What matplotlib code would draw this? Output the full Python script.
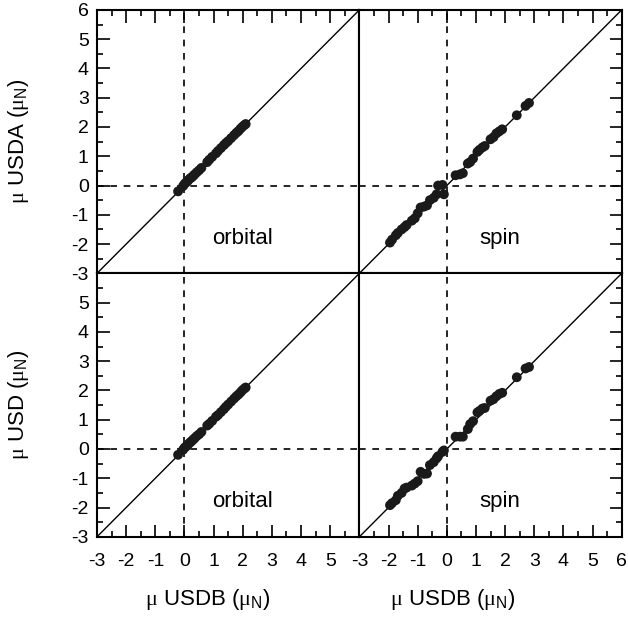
import matplotlib
matplotlib.use('Agg')
import matplotlib.pyplot as plt
from matplotlib.ticker import MultipleLocator, FixedLocator

plt.rcParams['font.family'] = ['Liberation Sans', 'DejaVu Sans']
plt.rcParams['mathtext.fontset'] = 'custom'
plt.rcParams['mathtext.rm'] = 'Liberation Sans'
plt.rcParams['mathtext.it'] = 'Liberation Serif'
plt.rcParams['axes.unicode_minus'] = False

# orbital parts of the magnetic moments (mu_N)
orb_usdb = [-0.22, -0.05, 0.0, 0.05, 0.1, 0.15, 0.2, 0.25, 0.3, 0.35, 0.42, 0.5, 0.58,
            0.78, 0.85, 0.95, 1.08, 1.15, 1.25, 1.35, 1.42, 1.5, 1.6, 1.7, 1.78, 1.85,
            1.92, 1.98, 2.05, 2.1]
orb_usda = [-0.2, -0.02, 0.05, 0.1, 0.14, 0.2, 0.25, 0.28, 0.33, 0.38, 0.45, 0.52, 0.6,
            0.8, 0.88, 0.98, 1.1, 1.18, 1.28, 1.38, 1.45, 1.52, 1.62, 1.72, 1.8, 1.86,
            1.94, 2.0, 2.06, 2.1]
orb_usd = [-0.2, -0.03, 0.04, 0.08, 0.13, 0.18, 0.23, 0.27, 0.32, 0.37, 0.44, 0.5, 0.58,
           0.8, 0.86, 0.96, 1.1, 1.16, 1.26, 1.36, 1.44, 1.52, 1.62, 1.72, 1.8, 1.86,
           1.93, 2.0, 2.06, 2.1]

# spin parts
spin_usdb = [-1.95, -1.88, -1.75, -1.68, -1.55, -1.45, -1.38, -1.2, -1.1, -1.0, -0.9,
             -0.78, -0.68, -0.58, -0.45, -0.35, -0.3, -0.15, -0.1, 0.3, 0.45, 0.55,
             0.72, 0.8, 0.9, 1.05, 1.12, 1.22, 1.3, 1.5, 1.6, 1.7, 1.8, 1.9, 2.4, 2.7, 2.82]
spin_usda = [-1.95, -1.85, -1.7, -1.62, -1.5, -1.42, -1.35, -1.2, -1.12, -0.95, -0.75,
             -0.72, -0.68, -0.5, -0.42, -0.3, 0.0, 0.02, -0.3, 0.35, 0.38, 0.42,
             0.75, 0.8, 0.92, 1.15, 1.22, 1.3, 1.35, 1.58, 1.65, 1.78, 1.85, 1.92, 2.4, 2.72, 2.82]
spin_usd = [-1.92, -1.85, -1.75, -1.6, -1.5, -1.35, -1.32, -1.25, -1.18, -1.1, -0.78,
            -0.85, -0.84, -0.55, -0.45, -0.32, -0.25, -0.1, -0.05, 0.42, 0.42, 0.42,
            0.68, 0.85, 0.95, 1.25, 1.3, 1.38, 1.4, 1.65, 1.7, 1.8, 1.88, 1.92, 2.45, 2.75, 2.8]

panel_text = ['orbital', 'spin']
ylabels = [r'$\mu$ USDA ($\mu_\mathrm{N}$)', r'$\mu$ USD ($\mu_\mathrm{N}$)']
xlabel = r'$\mu$ USDB ($\mu_\mathrm{N}$)'

fig = plt.figure(figsize=(6.28, 6.17), dpi=100)
gs = fig.add_gridspec(2, 2, left=0.1545, right=0.99, top=0.984, bottom=0.13,
                      hspace=0, wspace=0)

data = [[(orb_usdb, orb_usda), (spin_usdb, spin_usda)],
        [(orb_usdb, orb_usd), (spin_usdb, spin_usd)]]

for r in range(2):
    for c in range(2):
        ax = fig.add_subplot(gs[r, c])
        x, y = data[r][c]
        ax.plot([-3, 6], [-3, 6], color='black', lw=1.0, zorder=1)
        ax.axvline(0, color='black', lw=1.2, ls=(0, (4, 4)), zorder=1)
        ax.axhline(0, color='black', lw=1.2, ls=(0, (4, 4)), zorder=1)
        ax.scatter(x, y, s=50, color='#1a1a1a', edgecolors='none', zorder=3)
        ax.text(2.0 if c == 0 else 1.8, -1.8, panel_text[c], fontsize=16,
                ha='center', va='center')
        ax.set_xlim(-3, 6)
        ax.set_ylim(-3, 6)
        for sp in ax.spines.values():
            sp.set_linewidth(1.5)

        xt = list(range(-3, 6)) if c == 0 else list(range(-3, 7))
        yt = list(range(-3, 7)) if r == 0 else list(range(-3, 6))
        ax.xaxis.set_major_locator(FixedLocator(xt))
        ax.yaxis.set_major_locator(FixedLocator(yt))
        ax.xaxis.set_minor_locator(MultipleLocator(0.5))
        ax.yaxis.set_minor_locator(MultipleLocator(0.5))
        ax.tick_params(which='both', direction='in', width=1.2,
                       top=(r == 0), bottom=(r == 1),
                       left=(c == 0), right=(c == 1),
                       labelbottom=(r == 1), labelleft=(c == 0),
                       labeltop=False, labelright=False)
        ax.tick_params(which='major', length=9, labelsize=14)
        ax.tick_params(axis='y', which='major', pad=6)
        ax.tick_params(axis='x', which='major', pad=12)
        ax.tick_params(which='minor', length=4.5)

fig.text(0.029, (0.984 + 0.557) / 2, ylabels[0], rotation=90, fontsize=16,
         ha='center', va='center')
fig.text(0.029, (0.557 + 0.13) / 2, ylabels[1], rotation=90, fontsize=16,
         ha='center', va='center')
fig.text(208 / 628, 0.028, xlabel, fontsize=16, ha='center', va='center')
fig.text(453 / 628, 0.028, xlabel, fontsize=16, ha='center', va='center')

fig.savefig('out.png', dpi=100)
